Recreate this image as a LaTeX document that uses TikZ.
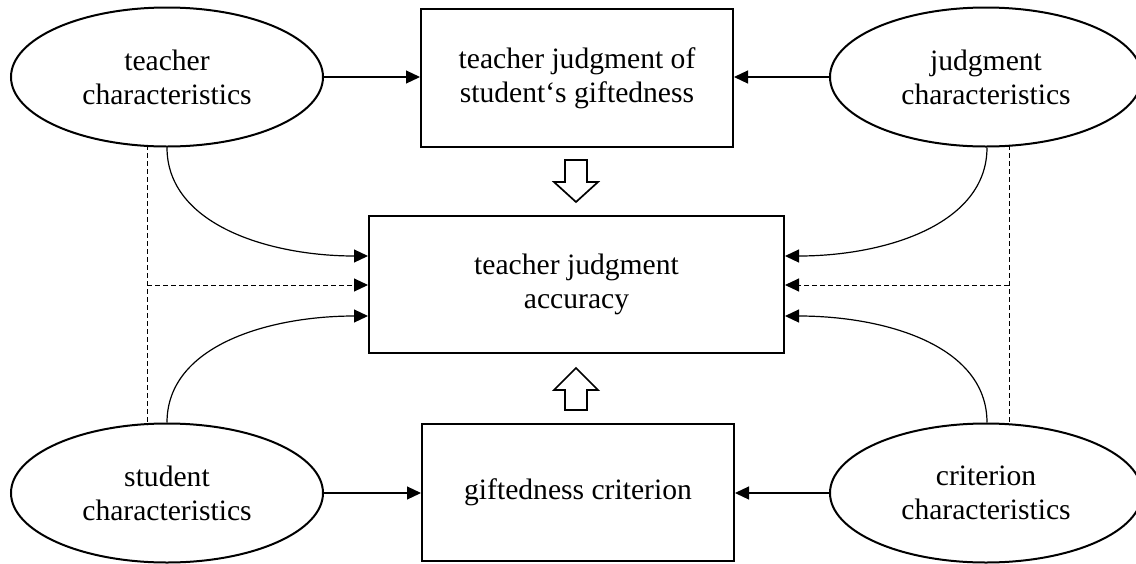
\documentclass[tikz,border=0pt]{standalone}
\usepackage{fontspec}
\setmainfont{Liberation Serif}
\usetikzlibrary{shapes.geometric,arrows.meta}
\begin{document}
\begin{tikzpicture}[x=1pt,y=-1pt,
  every node/.style={font=\fontsize{29.6}{34}\selectfont, align=center, inner sep=0pt},
  ell/.style={draw, ellipse, line width=2pt, minimum width=312pt, minimum height=139pt},
  boxnode/.style={draw, rectangle, line width=2pt},
  tip/.style={-{Triangle[length=14pt,width=13pt]}},
  conn/.style={line width=1.2pt, tip},
  dconn/.style={line width=1pt, dash pattern=on 5pt off 3pt},
  blockarrow/.style={draw, line width=1.7pt, fill=white, line join=miter}]
\useasboundingbox (0,0) rectangle (1136,563);
% nodes
\node[ell] (tc) at (167,77) {teacher\\characteristics};
\node[ell] (jc) at (986,77) {judgment\\characteristics};
\node[ell] (sc) at (167,493) {student\\characteristics};
\node[ell] (cc) at (986,493) {criterion\\characteristics};
\node[boxnode, minimum width=312pt, minimum height=138pt] (tj) at (577,78) {teacher judgment of\\student‘s giftedness};
\node[boxnode, minimum width=415pt, minimum height=137pt] (acc) at (576.5,284.5) {teacher judgment\\accuracy};
\node[boxnode, minimum width=312pt, minimum height=137pt] (gc) at (578,492.5) {giftedness criterion};
% horizontal arrows
\draw[conn] (tc.east) -- (tc.east -| tj.west);
\draw[conn] (jc.west) -- (jc.west -| tj.east);
\draw[conn] (sc.east) -- (sc.east -| gc.west);
\draw[conn] (cc.west) -- (cc.west -| gc.east);
% curved arrows
\coordinate (accL1) at (acc.west |- 0,256);
\coordinate (accL2) at (acc.west |- 0,285);
\coordinate (accL3) at (acc.west |- 0,316);
\coordinate (accR1) at (acc.east |- 0,256);
\coordinate (accR2) at (acc.east |- 0,285);
\coordinate (accR3) at (acc.east |- 0,316);
\draw[conn] (tc.south) .. controls (167,225) and (270,256) .. (accL1);
\draw[conn] (sc.north) .. controls (167,345) and (270,316) .. (accL3);
\draw[conn] (jc.south -| 987,0) .. controls (987,225) and (884,256) .. (accR1);
\draw[conn] (cc.north -| 987,0) .. controls (987,345) and (884,316) .. (accR3);
% dashed paths
\coordinate (dl) at (147,285);
\coordinate (dr) at (1009,285);
\draw[dconn] (147,145) -- (147,425);
\draw[dconn, tip] (dl) -- (accL2);
\draw[dconn] (1009,145) -- (1009,425);
\draw[dconn, tip] (dr) -- (accR2);
% block arrows
\draw[blockarrow] (565,160) -- (587,160) -- (587,182) -- (598,182) -- (576,202) -- (554,182) -- (565,182) -- cycle;
\draw[blockarrow] (565,410) -- (587,410) -- (587,390) -- (598,390) -- (576,368) -- (554,390) -- (565,390) -- cycle;
\end{tikzpicture}
\end{document}
